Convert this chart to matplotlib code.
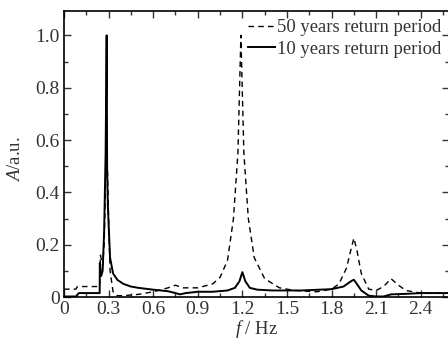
import matplotlib
matplotlib.use("Agg")
import matplotlib.pyplot as plt
from matplotlib.ticker import MultipleLocator, FixedLocator

plt.rcParams["font.family"] = ["Liberation Serif", "DejaVu Serif"]
plt.rcParams["mathtext.fontset"] = "custom"
plt.rcParams["mathtext.rm"] = "Liberation Serif"
plt.rcParams["mathtext.it"] = "Liberation Serif:italic"

# Amplitude spectra (normalised) for two return periods
f_10 = [0, 0.08, 0.1, 0.24, 0.241, 0.25, 0.26, 0.27, 0.28, 0.287, 0.29, 0.295,
        0.30, 0.31, 0.33, 0.36, 0.40, 0.45, 0.5, 0.6, 0.7, 0.75, 0.78, 0.82,
        0.9, 1.0, 1.1, 1.15, 1.18, 1.2, 1.22, 1.25, 1.3, 1.4, 1.6, 1.8, 1.88,
        1.93, 1.95, 1.97, 2.0, 2.05, 2.1, 2.15, 2.2, 2.3, 2.4, 2.6]
a_10 = [0.002, 0.002, 0.015, 0.015, 0.13, 0.08, 0.10, 0.25, 0.55, 1.0, 0.5, 0.35,
        0.28, 0.15, 0.09, 0.065, 0.05, 0.04, 0.035, 0.028, 0.022, 0.015, 0.01, 0.015,
        0.02, 0.02, 0.025, 0.035, 0.06, 0.095, 0.06, 0.035, 0.028, 0.025, 0.025, 0.03, 0.04,
        0.06, 0.066, 0.05, 0.025, 0.005, 0.002, 0.002, 0.01, 0.012, 0.015, 0.015]

f_50 = [0, 0.08, 0.09, 0.24, 0.245, 0.26, 0.27, 0.28, 0.29, 0.30, 0.31, 0.33,
        0.36, 0.4, 0.5, 0.6, 0.7, 0.75, 0.8, 0.9, 1.0, 1.05, 1.1, 1.14, 1.17,
        1.19, 1.21, 1.24, 1.28, 1.35, 1.45, 1.55, 1.7, 1.8, 1.85, 1.9, 1.93,
        1.95, 1.97, 2.0, 2.05, 2.1, 2.15, 2.2, 2.25, 2.3, 2.4, 2.6]
a_50 = [0.03, 0.03, 0.04, 0.04, 0.16, 0.12, 0.2, 0.45, 0.54, 0.3, 0.1, 0.02,
        0.005, 0.005, 0.01, 0.02, 0.035, 0.045, 0.035, 0.035, 0.05, 0.075, 0.14, 0.3, 0.55,
        1.0, 0.55, 0.3, 0.15, 0.07, 0.035, 0.025, 0.02, 0.03, 0.05, 0.11, 0.18,
        0.225, 0.18, 0.09, 0.03, 0.025, 0.04, 0.07, 0.045, 0.025, 0.015, 0.015]

x_ticks = [0, 0.3, 0.6, 0.9, 1.2, 1.5, 1.8, 2.1, 2.4]
x_labels = ["0", "0.3", "0.6", "0.9", "1.2", "1.5", "1.8", "2.1", "2.4"]
y_ticks = [0, 0.2, 0.4, 0.6, 0.8, 1.0]
y_labels = ["0", "0.2", "0.4", "0.6", "0.8", "1.0"]

fig = plt.figure(figsize=(4.48, 3.44), dpi=100)
ax = fig.add_axes([64 / 448, 47 / 344, 385 / 448, 286.5 / 344])

ax.plot(f_50, a_50, color="black", lw=1.0, ls=(0, (4, 3)), label="50 years return period")
ax.plot(f_10, a_10, color="black", lw=1.4, label="10 years return period")

ax.set_xlim(0, 2.59)
ax.set_ylim(0, 1.095)
ax.xaxis.set_major_locator(FixedLocator(x_ticks))
ax.set_xticklabels(x_labels)
ax.xaxis.set_minor_locator(MultipleLocator(0.15))
ax.yaxis.set_major_locator(FixedLocator(y_ticks))
ax.set_yticklabels(y_labels)
ax.yaxis.set_minor_locator(MultipleLocator(0.1))
ax.tick_params(which="both", direction="in", top=True, right=True, labelsize=14,
               width=1.0, color="#333333", labelcolor="#333333")
ax.tick_params(which="major", length=5, pad=3)
ax.tick_params(which="minor", length=3)
for s in ax.spines.values():
    s.set_linewidth(1.2)

ax.set_xlabel("$f$ / Hz", fontsize=13.5, color="#333333", labelpad=0)
ax.set_ylabel("$A$/a.u.", fontsize=13.5, color="#333333")
ax.yaxis.set_label_coords(-0.105, 0.48)

leg = ax.legend(loc="upper right", frameon=False, fontsize=13.4, handlelength=1.45,
                handletextpad=0.1, labelspacing=0.25, borderpad=0, borderaxespad=0,
                bbox_to_anchor=(441 / 448, 1 - 19 / 344), bbox_transform=fig.transFigure)
for t in leg.get_texts():
    t.set_color("#333333")

fig.savefig("out.png", dpi=100)
